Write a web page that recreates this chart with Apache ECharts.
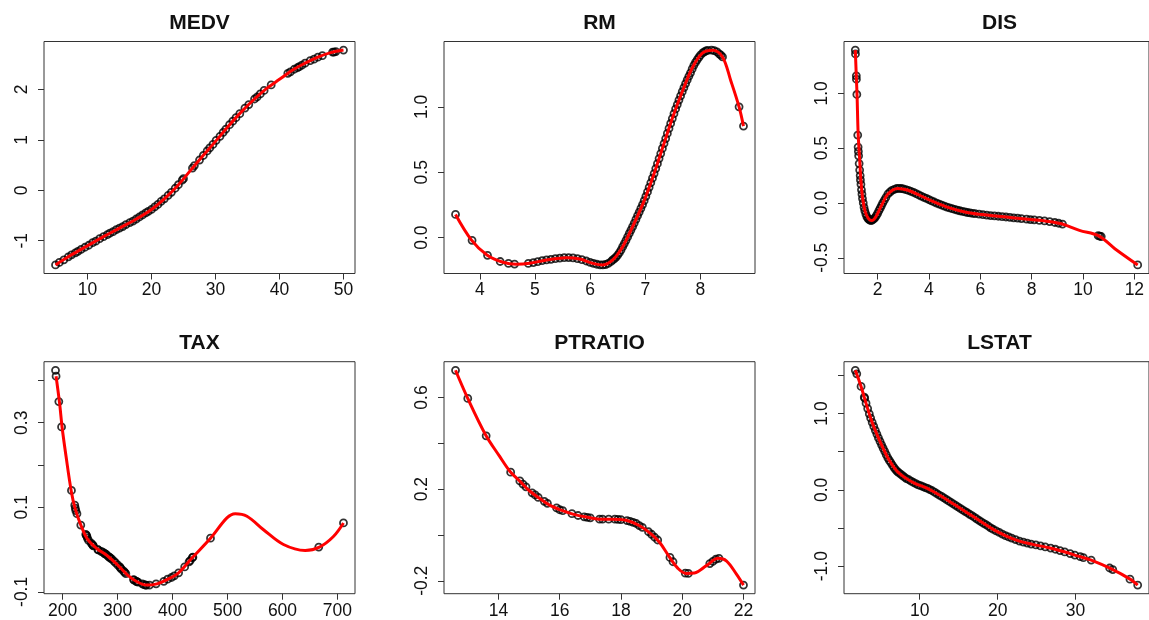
<!DOCTYPE html>
<html>
<head>
<meta charset="utf-8">
<script src="https://cdn.jsdelivr.net/npm/echarts@6/dist/echarts.min.js"></script>
<style>
  html, body { margin: 0; padding: 0; background: #ffffff; }
  #chart { width: 1149px; height: 620px; }
</style>
</head>
<body>
<div id="chart"></div>
<script>
// ---- MEDV ----
const medvPoints = [
  [5.0,-1.48],[5.6,-1.43],[6.3,-1.38],[7.0,-1.32],[7.5,-1.28],[8.1,-1.24],[8.5,-1.21],[9.0,-1.17],
  [9.6,-1.13],[10.2,-1.09],[10.8,-1.04],[11.3,-1.01],[11.9,-0.96],[12.5,-0.92],[13.1,-0.88],[13.5,-0.85],
  [14.0,-0.82],[14.5,-0.78],[15.0,-0.75],[15.5,-0.72],[16.0,-0.68],[16.6,-0.64],[17.1,-0.61],[17.6,-0.57],
  [18.1,-0.53],[18.6,-0.49],[19.1,-0.45],[19.5,-0.42],[20.0,-0.38],[20.5,-0.33],[21.0,-0.28],[21.5,-0.22],
  [22.0,-0.17],[22.6,-0.10],[23.1,-0.04],[23.7,0.04],[24.2,0.11],[24.8,0.20],[25.0,0.23],[26.4,0.44],
  [26.7,0.49],[27.5,0.60],[28.1,0.69],[28.7,0.78],[29.1,0.84],[29.6,0.91],[30.1,0.99],[30.7,1.07],
  [31.2,1.15],[31.6,1.21],[32.2,1.30],[32.7,1.37],[33.2,1.44],[33.8,1.52],[34.6,1.63],[35.2,1.70],
  [36.1,1.81],[36.5,1.85],[37.0,1.91],[37.6,1.98],[38.7,2.09],[41.3,2.32],[41.7,2.35],[42.3,2.40],
  [42.8,2.43],[43.1,2.45],[43.5,2.48],[44.0,2.52],[44.8,2.57],[45.4,2.60],[46.0,2.64],[46.7,2.67],
  [48.3,2.74],[48.5,2.74],[48.8,2.75],[50.0,2.78]
];
const medvCurve = [
  [5,-1.48],[7.5,-1.28],[10,-1.10],[12.5,-0.92],[15,-0.75],[17.5,-0.58],[20,-0.38],[22,-0.17],
  [24,0.08],[26,0.38],[28,0.68],[30,0.97],[32,1.27],[34,1.55],[36,1.80],[38,2.02],[40,2.20],
  [42,2.38],[44,2.52],[46,2.64],[48,2.73],[50,2.78]
];
const medvXTicks = [10, 20, 30, 40, 50];
const medvYTicks = [-1, 0, 1, 2];
const medvYLabels = [-1, 0, 1, 2];

// ---- RM ----
const rmPoints = [
  [3.56,0.178],[3.86,-0.02],[4.14,-0.135],[4.37,-0.182],[4.52,-0.197],[4.63,-0.202],
  [4.88,-0.197],[4.97,-0.19],[5.05,-0.183],[5.13,-0.176],[5.21,-0.170],[5.29,-0.165],[5.37,-0.16],
  [5.45,-0.156],[5.53,-0.153],[5.61,-0.152],[5.69,-0.155],[5.77,-0.16],[5.85,-0.168],[5.93,-0.178],
  [6.0,-0.189],[6.06,-0.197],[6.12,-0.203],[6.18,-0.207],[6.23,-0.208],[6.28,-0.205],[6.33,-0.196],
  [6.38,-0.182],[6.41,-0.170],[6.44,-0.16],[6.47,-0.148],[6.50,-0.133],[6.53,-0.115],[6.56,-0.094],
  [6.59,-0.069],[6.62,-0.045],[6.65,-0.02],[6.68,0.006],[6.71,0.033],[6.74,0.058],[6.77,0.084],
  [6.80,0.112],[6.83,0.14],[6.86,0.168],[6.89,0.196],[6.92,0.224],[6.95,0.252],[6.98,0.283],
  [7.01,0.315],[7.04,0.35],[7.07,0.385],[7.10,0.42],[7.13,0.455],[7.16,0.49],[7.19,0.528],
  [7.22,0.566],[7.25,0.605],[7.28,0.643],[7.31,0.682],[7.34,0.72],[7.37,0.758],[7.40,0.797],
  [7.43,0.835],[7.46,0.873],[7.49,0.911],[7.52,0.948],[7.55,0.984],[7.58,1.018],[7.61,1.052],
  [7.64,1.084],[7.67,1.116],[7.70,1.147],[7.73,1.177],[7.76,1.206],[7.79,1.234],[7.82,1.26],
  [7.85,1.29],[7.88,1.318],[7.91,1.34],[7.94,1.36],[7.97,1.378],[8.00,1.395],[8.04,1.412],
  [8.07,1.421],[8.10,1.428],[8.13,1.432],[8.20,1.434],[8.25,1.43],[8.30,1.42],[8.34,1.405],
  [8.37,1.395],[8.40,1.382],[8.70,1.0],[8.78,0.853]
];
const rmCurve = [
  [3.56,0.178],[3.85,-0.018],[4.13,-0.132],[4.42,-0.188],[4.66,-0.203],[4.90,-0.196],[5.21,-0.170],
  [5.57,-0.153],[5.81,-0.163],[6.05,-0.196],[6.23,-0.208],[6.41,-0.170],[6.59,-0.069],[6.77,0.084],
  [6.96,0.262],[7.14,0.466],[7.32,0.695],[7.50,0.924],[7.68,1.127],[7.86,1.305],[8.04,1.412],
  [8.22,1.433],[8.40,1.382],[8.55,1.2],[8.70,1.0],[8.78,0.853]
];
const rmXTicks = [4, 5, 6, 7, 8];
const rmYTicks = [0, 0.5, 1.0];
const rmYLabels = [0, 0.5, 1.0];

// ---- DIS ----
const disPoints = [
  [1.13,1.395],[1.137,1.36],[1.17,1.16],[1.174,1.13],[1.19,0.99],[1.225,0.62],[1.24,0.51],[1.25,0.47],
  [1.26,0.43],[1.28,0.36],[1.30,0.30],[1.32,0.25],[1.33,0.21],[1.35,0.17],[1.37,0.12],[1.39,0.08],
  [1.41,0.04],[1.44,0.0],[1.47,-0.04],[1.50,-0.07],[1.54,-0.10],[1.58,-0.125],[1.62,-0.14],[1.66,-0.15],
  [1.70,-0.157],[1.75,-0.16],[1.80,-0.155],[1.85,-0.145],[1.90,-0.133],[1.95,-0.115],[2.0,-0.095],
  [2.05,-0.07],[2.1,-0.047],[2.15,-0.024],[2.2,0.0],[2.26,0.025],[2.32,0.05],[2.4,0.082],[2.48,0.1],
  [2.56,0.115],[2.65,0.125],[2.74,0.132],[2.83,0.134],[2.92,0.132],[3.0,0.128],[3.1,0.121],[3.2,0.115],
  [3.3,0.106],[3.4,0.096],[3.5,0.085],[3.6,0.073],[3.7,0.063],[3.8,0.052],[3.9,0.042],[4.0,0.031],
  [4.1,0.019],[4.2,0.009],[4.3,-0.001],[4.4,-0.01],[4.5,-0.02],[4.6,-0.029],[4.7,-0.037],[4.8,-0.045],
  [4.9,-0.052],[5.0,-0.059],[5.1,-0.065],[5.2,-0.071],[5.3,-0.077],[5.4,-0.082],[5.5,-0.087],[5.6,-0.09],
  [5.7,-0.094],[5.8,-0.097],[5.95,-0.102],[6.1,-0.107],[6.25,-0.111],[6.4,-0.115],[6.55,-0.118],
  [6.7,-0.121],[6.85,-0.125],[7.0,-0.128],[7.15,-0.132],[7.3,-0.135],[7.45,-0.139],[7.6,-0.142],
  [7.8,-0.147],[7.95,-0.151],[8.1,-0.154],[8.3,-0.159],[8.5,-0.164],[8.7,-0.170],[8.9,-0.178],
  [9.05,-0.185],[9.2,-0.192],[10.59,-0.298],[10.65,-0.302],[10.71,-0.306],[12.13,-0.565]
];
const disCurve = [
  [1.13,1.395],[1.17,1.153],[1.20,0.972],[1.24,0.64],[1.30,0.40],[1.345,0.217],[1.42,0.036],
  [1.52,-0.084],[1.65,-0.145],[1.77,-0.16],[1.92,-0.13],[2.15,-0.024],[2.40,0.082],[2.78,0.133],
  [3.16,0.118],[3.67,0.066],[4.17,0.012],[4.80,-0.045],[5.44,-0.084],[6.07,-0.106],[6.70,-0.121],
  [7.33,-0.136],[7.96,-0.151],[8.59,-0.166],[9.16,-0.19],[9.86,-0.25],[10.61,-0.30],[11.24,-0.417],
  [12.13,-0.565]
];
const disXTicks = [2, 4, 6, 8, 10, 12];
const disYTicks = [-0.5, 0, 0.5, 1.0];
const disYLabels = [-0.5, 0, 0.5, 1.0];

// ---- TAX ----
const taxPoints = [
  [187,0.424],[188,0.41],[193,0.35],[198,0.29],[216,0.14],[222,0.105],[223,0.098],[224,0.092],
  [226,0.085],[233,0.058],[242,0.036],[243,0.034],[244,0.032],[245,0.027],[247,0.022],[252,0.015],
  [254,0.012],[255,0.01],[256,0.009],[264,0.0],[265,-0.001],[270,-0.004],[273,-0.006],[276,-0.009],
  [277,-0.01],[279,-0.011],[281,-0.014],[284,-0.017],[285,-0.018],[287,-0.02],[289,-0.022],
  [293,-0.027],[296,-0.031],[300,-0.036],[304,-0.041],[305,-0.043],[307,-0.046],[311,-0.051],
  [313,-0.054],[315,-0.057],[329,-0.071],[330,-0.072],[334,-0.075],[335,-0.076],[337,-0.077],
  [345,-0.081],[348,-0.083],[351,-0.084],[352,-0.084],[358,-0.084],[370,-0.081],[384,-0.075],
  [391,-0.07],[398,-0.066],[403,-0.062],[411,-0.055],[422,-0.041],[430,-0.029],[432,-0.026],
  [436,-0.019],[437,-0.018],[469,0.027],[666,0.006],[711,0.063]
];
const taxCurve = [
  [188,0.41],[194.5,0.345],[198.9,0.29],[206.2,0.22],[215.8,0.137],[223.1,0.095],[234,0.055],
  [245.5,0.024],[262.5,0.002],[280.7,-0.014],[298.9,-0.035],[317.1,-0.059],[335.3,-0.076],
  [353.5,-0.084],[371.6,-0.081],[389.8,-0.071],[410.9,-0.055],[435.3,-0.02],[469.8,0.028],
  [498.9,0.075],[514,0.085],[535.3,0.079],[565.5,0.047],[601.8,0.012],[641.3,-0.002],
  [667.3,0.006],[692.7,0.031],[711,0.063]
];
const taxXTicks = [200, 300, 400, 500, 600, 700];
const taxYTicks = [-0.1, 0, 0.1, 0.2, 0.3, 0.4];
const taxYLabels = [-0.1, 0.1, 0.3];

// ---- PTRATIO ----
const ptratioPoints = [
  [12.6,0.719],[13.0,0.596],[13.6,0.433],[14.4,0.274],[14.7,0.236],[14.8,0.222],[14.9,0.21],
  [15.1,0.184],[15.2,0.175],[15.3,0.164],[15.5,0.147],[15.6,0.138],[15.9,0.118],[16.0,0.11],
  [16.1,0.106],[16.4,0.093],[16.6,0.085],[16.8,0.079],[16.9,0.077],[17.0,0.075],[17.3,0.069],
  [17.4,0.069],[17.6,0.069],[17.8,0.069],[17.9,0.068],[18.0,0.067],[18.2,0.063],[18.3,0.059],
  [18.4,0.055],[18.5,0.05],[18.6,0.041],[18.7,0.033],[18.9,0.014],[19.0,0.003],[19.1,-0.01],
  [19.2,-0.022],[19.6,-0.098],[19.7,-0.117],[20.1,-0.167],[20.2,-0.168],[20.9,-0.125],[21.0,-0.115],
  [21.1,-0.106],[21.2,-0.102],[22.0,-0.219]
];
const ptratioCurve = [
  [12.6,0.719],[13.0,0.596],[13.575,0.439],[14.03,0.345],[14.38,0.277],[14.69,0.236],[15.01,0.193],
  [15.34,0.16],[15.67,0.13],[16.05,0.108],[16.43,0.091],[16.87,0.078],[17.30,0.069],[17.74,0.069],
  [18.17,0.064],[18.61,0.04],[18.99,0.004],[19.26,-0.032],[19.59,-0.098],[19.86,-0.146],
  [20.13,-0.168],[20.40,-0.166],[20.79,-0.134],[21.17,-0.102],[21.44,-0.113],[21.77,-0.171],
  [22.0,-0.219]
];
const ptratioXTicks = [14, 16, 18, 20, 22];
const ptratioYTicks = [-0.2, 0, 0.2, 0.4, 0.6];
const ptratioYLabels = [-0.2, 0.2, 0.6];

// ---- LSTAT ----
const lstatPoints = [
  [1.73,1.566],[1.92,1.52],[2.47,1.355],[2.88,1.215],[2.94,1.20],[3.11,1.135],[3.32,1.065],[3.53,0.995],
  [3.70,0.94],[3.9,0.883],[4.1,0.83],[4.3,0.78],[4.5,0.73],[4.7,0.68],[4.9,0.635],[5.1,0.59],
  [5.3,0.545],[5.5,0.505],[5.7,0.46],[5.9,0.42],[6.1,0.385],[6.3,0.355],[6.5,0.322],[6.7,0.292],
  [6.9,0.265],[7.1,0.243],[7.3,0.225],[7.55,0.207],[7.8,0.185],[8.05,0.165],[8.3,0.148],[8.6,0.132],
  [8.9,0.114],[9.2,0.096],[9.5,0.08],[9.8,0.065],[10.1,0.054],[10.4,0.043],[10.7,0.03],[11.0,0.018],
  [11.3,0.004],[11.6,-0.012],[11.9,-0.03],[12.2,-0.049],[12.5,-0.068],[12.8,-0.085],[13.1,-0.105],
  [13.4,-0.125],[13.7,-0.145],[14.0,-0.164],[14.3,-0.183],[14.6,-0.203],[14.9,-0.222],[15.2,-0.243],
  [15.5,-0.262],[15.8,-0.281],[16.1,-0.30],[16.4,-0.32],[16.7,-0.339],[17.0,-0.359],[17.3,-0.379],
  [17.6,-0.4],[17.9,-0.419],[18.2,-0.439],[18.5,-0.457],[18.8,-0.477],[19.1,-0.497],[19.4,-0.516],
  [19.8,-0.537],[20.2,-0.558],[20.6,-0.58],[21.0,-0.6],[21.4,-0.617],[21.8,-0.632],[22.3,-0.652],
  [22.8,-0.671],[23.3,-0.686],[23.8,-0.698],[24.3,-0.71],[24.9,-0.721],[25.5,-0.735],[26.1,-0.748],
  [26.8,-0.763],[27.4,-0.778],[28.0,-0.796],[28.6,-0.813],[29.3,-0.835],[29.9,-0.855],[30.6,-0.876],
  [31.0,-0.888],[32.0,-0.92],[34.37,-1.024],[34.77,-1.045],[36.98,-1.17],[37.97,-1.248]
];
const lstatCurve = [
  [1.73,1.566],[2.45,1.36],[3.08,1.143],[3.91,0.88],[4.97,0.619],[6.01,0.40],[7.06,0.247],[8.11,0.16],
  [9.37,0.085],[11.04,0.016],[12.72,-0.081],[14.40,-0.19],[16.08,-0.299],[17.75,-0.409],[19.43,-0.518],
  [21.11,-0.605],[22.78,-0.671],[24.47,-0.714],[26.55,-0.758],[28.65,-0.815],[30.33,-0.868],
  [32.01,-0.92],[34.53,-1.033],[37.04,-1.173],[37.97,-1.248]
];
const lstatXTicks = [10, 20, 30];
const lstatYTicks = [-1.0, -0.5, 0, 0.5, 1.0, 1.5];
const lstatYLabels = [-1.0, 0, 1.0];

// ---- panel assembly ----
const panels = [
  { title: 'MEDV',    points: medvPoints,    curve: medvCurve,    xTicks: medvXTicks,    yTicks: medvYTicks,    yLabels: medvYLabels,    dec: 0 },
  { title: 'RM',      points: rmPoints,      curve: rmCurve,      xTicks: rmXTicks,      yTicks: rmYTicks,      yLabels: rmYLabels,      dec: 1 },
  { title: 'DIS',     points: disPoints,     curve: disCurve,     xTicks: disXTicks,     yTicks: disYTicks,     yLabels: disYLabels,     dec: 1 },
  { title: 'TAX',     points: taxPoints,     curve: taxCurve,     xTicks: taxXTicks,     yTicks: taxYTicks,     yLabels: taxYLabels,     dec: 1 },
  { title: 'PTRATIO', points: ptratioPoints, curve: ptratioCurve, xTicks: ptratioXTicks, yTicks: ptratioYTicks, yLabels: ptratioYLabels, dec: 1 },
  { title: 'LSTAT',   points: lstatPoints,   curve: lstatCurve,   xTicks: lstatXTicks,   yTicks: lstatYTicks,   yLabels: lstatYLabels,   dec: 1 }
];

// plot-region boxes, 2 rows x 3 columns
const colLeft = [44, 444, 844];
const rowTop = [41.5, 361.7];
const boxW = 311, boxH = 232;

const FONT = '"Liberation Sans", Arial, Helvetica, sans-serif';
const AXIS_COLOR = '#333';

// data range padded by 4% on each side
function padded(vals) {
  const lo = Math.min(...vals), hi = Math.max(...vals);
  const d = (hi - lo) * 0.04;
  return [lo - d, hi + d];
}

const grid = [], xAxis = [], yAxis = [], series = [], graphic = [];

panels.forEach((p, i) => {
  const r = Math.floor(i / 3), c = i % 3;
  const left = colLeft[c], top = rowTop[r];
  grid.push({
    left: left, top: top, width: boxW, height: boxH,
    containLabel: false, show: true,
    borderColor: AXIS_COLOR, borderWidth: 1, backgroundColor: 'transparent'
  });
  const xr = padded(p.points.map(d => d[0]));
  const yr = padded(p.points.map(d => d[1]));
  xAxis.push({
    type: 'value', gridIndex: i, min: xr[0], max: xr[1], position: 'bottom',
    axisLine: { show: false, onZero: false },
    splitLine: { show: false },
    axisTick: { show: true, inside: false, length: 6, customValues: p.xTicks,
                lineStyle: { color: AXIS_COLOR, width: 1 } },
    axisLabel: { show: true, customValues: p.xTicks, margin: 8,
                 color: '#111', fontSize: 17.5, fontFamily: FONT,
                 formatter: v => String(v) }
  });
  yAxis.push({
    type: 'value', gridIndex: i, min: yr[0], max: yr[1], position: 'left',
    axisLine: { show: false, onZero: false },
    splitLine: { show: false },
    axisTick: { show: true, inside: false, length: 6, customValues: p.yTicks,
                lineStyle: { color: AXIS_COLOR, width: 1 } },
    axisLabel: { show: true, customValues: p.yLabels, margin: 13, rotate: 90,
                 color: '#111', fontSize: 17.5, fontFamily: FONT,
                 formatter: v => Number(v).toFixed(p.dec) }
  });
  series.push({
    type: 'scatter', xAxisIndex: i, yAxisIndex: i,
    data: p.points, symbol: 'circle', symbolSize: 7,
    itemStyle: { color: 'rgba(255,255,255,0)', borderColor: '#000', borderWidth: 1.8 },
    emphasis: { disabled: true }, silent: true, z: 2
  });
  series.push({
    type: 'line', xAxisIndex: i, yAxisIndex: i,
    data: p.curve, showSymbol: false, smooth: 0.35,
    lineStyle: { color: '#ff0000', width: 3 },
    emphasis: { disabled: true }, silent: true, z: 3
  });
  graphic.push({
    type: 'text', x: left + boxW / 2, y: r === 0 ? 23 : 343.5,
    style: { text: p.title, font: 'bold 21px ' + FONT, fill: '#111',
             align: 'center', verticalAlign: 'middle' }
  });
});

const chart = echarts.init(document.getElementById('chart'), null, { renderer: 'canvas' });
chart.setOption({
  animation: false,
  backgroundColor: '#ffffff',
  grid: grid,
  xAxis: xAxis,
  yAxis: yAxis,
  series: series,
  graphic: graphic
});
</script>
</body>
</html>
